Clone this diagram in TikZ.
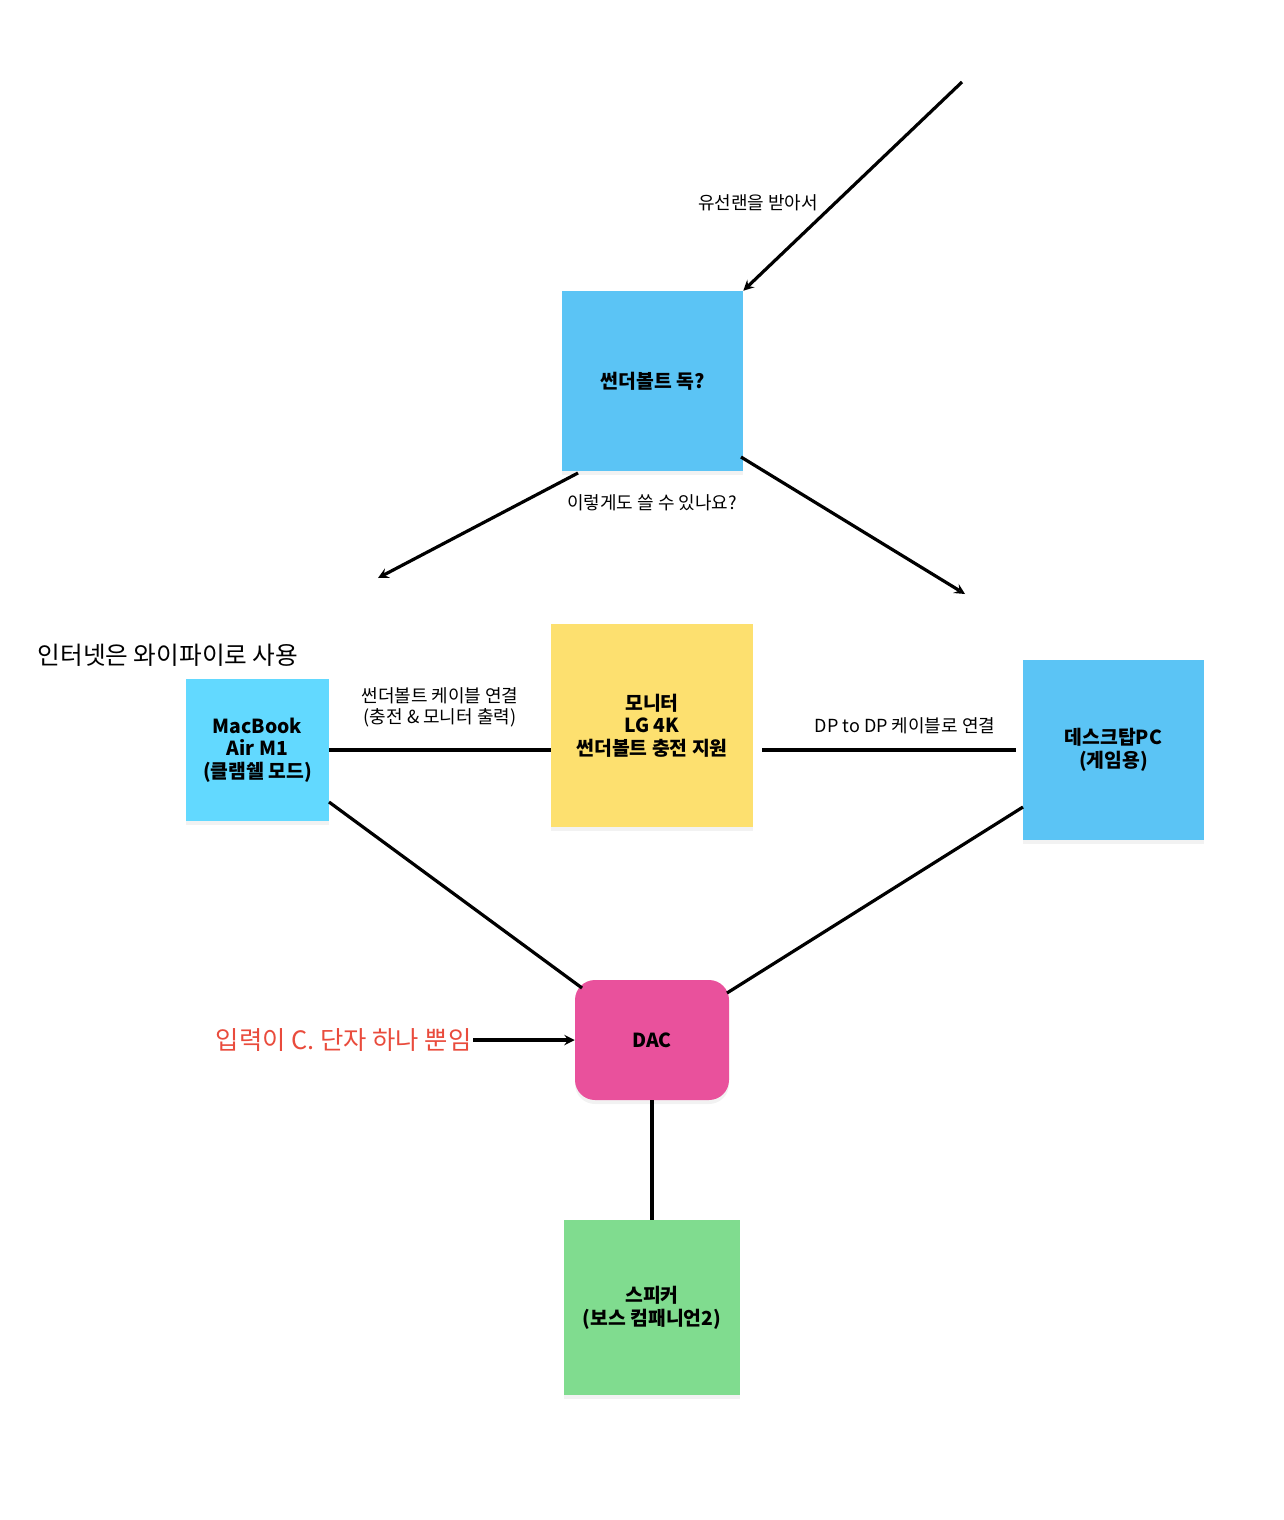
\documentclass[tikz,border=0pt]{standalone}
\usepackage{fontspec}
\setmainfont{Noto Sans CJK KR}
\usetikzlibrary{shadows}
\definecolor{dockblue}{HTML}{5BC4F5}
\definecolor{macblue}{HTML}{62D9FF}
\definecolor{monyellow}{HTML}{FDE06F}
\definecolor{dacpink}{HTML}{E9519C}
\definecolor{spkgreen}{HTML}{80DC8F}
\definecolor{notered}{HTML}{E94B3C}
\tikzset{
  note/.style={draw=none,align=center,font=\fontsize{14.5}{17}\selectfont\bfseries,
    inner sep=0pt,drop shadow={opacity=0.1,shadow xshift=0pt,shadow yshift=-3pt}},
  lbl/.style={align=center,font=\fontsize{13.5}{16}\selectfont},
  wire/.style={line width=2.4pt},
  arr/.style={wire,-stealth}
}
\begin{document}
\begin{tikzpicture}[x=0.75pt,y=-0.75pt]
  \useasboundingbox (0,0) rectangle (1284,1520);
  % boxes
  \node[note,fill=dockblue,minimum width=181*0.75pt,minimum height=180*0.75pt] (dock) at (652.5,381) {썬더볼트 독?};
  \node[note,fill=macblue,minimum width=143*0.75pt,minimum height=142*0.75pt] (mac) at (257.5,750) {MacBook\\Air M1\\(클램쉘 모드)};
  \node[note,fill=monyellow,minimum width=202*0.75pt,minimum height=203*0.75pt] (mon) at (652,725.5) {모니터\\LG 4K\\썬더볼트 충전 지원};
  \node[note,fill=dockblue,minimum width=181*0.75pt,minimum height=180*0.75pt] (pc) at (1113.5,750) {데스크탑PC\\(게임용)};
  \node[note,fill=dacpink,rounded corners=15pt,minimum width=154*0.75pt,minimum height=120*0.75pt] (dac) at (652,1040) {DAC};
  \node[note,fill=spkgreen,minimum width=176*0.75pt,minimum height=175*0.75pt] (spk) at (652,1307.5) {스피커\\(보스 컴패니언2)};
  % free ends
  \coordinate (lan) at (962,82);
  \coordinate (lend) at (378,578);
  \coordinate (rend) at (965,594);
  % connectors
  \draw[arr] (lan) -- (dock.north east);
  \draw[arr] (578,473) -- (lend);
  \draw[arr] (741,457) -- (rend);
  \draw[wire] (mac.east) -- (mon.west |- mac.east);
  \draw[wire] (762,750) -- (1016,750);
  \draw[wire] (329,802) -- (582,988);
  \draw[wire] (1023,807) -- (727,993);
  \draw[wire] (dac.south) -- (spk.north);
  % labels
  \node[lbl] (lanlbl) at (758,203) {유선랜을 받아서};
  \node[lbl] (asklbl) at (652,503) {이렇게도 쓸 수 있나요?};
  \node[lbl,font=\fontsize{18.5}{22}\selectfont] (wifi) at (168,655) {인터넷은 와이파이로 사용};
  \node[lbl] (tblbl) at (440,707) {썬더볼트 케이블 연결\\(충전 \& 모니터 출력)};
  \node[lbl] (dplbl) at (905,726) {DP to DP 케이블로 연결};
  \node[lbl,font=\fontsize{19}{22}\selectfont,text=notered,anchor=east,inner sep=1pt] (cin) at (473,1040) {입력이 C. 단자 하나 뿐임};
  \draw[arr] (cin.east) -- (dac.west);
\end{tikzpicture}
\end{document}
